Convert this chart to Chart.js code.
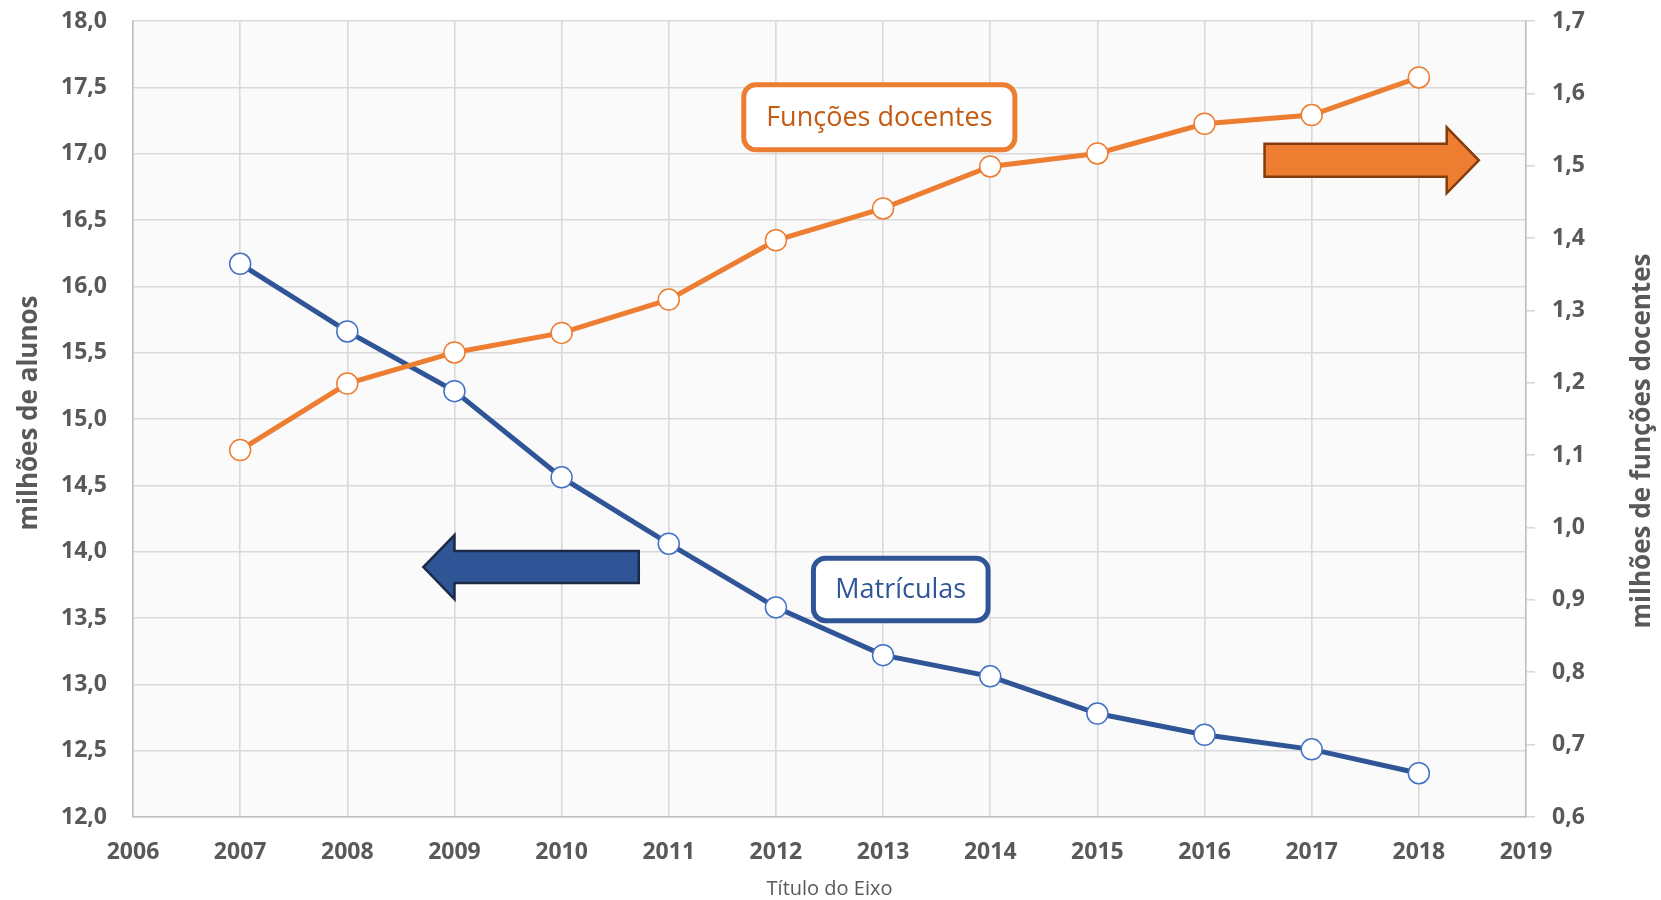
<!DOCTYPE html>
<html><head><meta charset="utf-8">
<script src="https://cdn.jsdelivr.net/npm/chart.js@4"></script>
<style>html,body{margin:0;padding:0;background:#fff}</style>
</head><body>
<canvas id="c" width="1661" height="900" style="width:1661px;height:900px;display:block"></canvas>
<script>
const years = [2007, 2008, 2009, 2010, 2011, 2012, 2013, 2014, 2015, 2016, 2017, 2018];
const matriculas = [16.17, 15.66, 15.21, 14.56, 14.06, 13.58, 13.22, 13.06, 12.78, 12.62, 12.51, 12.33];
const funcoesDocentes = [1.107, 1.199, 1.242, 1.269, 1.315, 1.397, 1.441, 1.499, 1.517, 1.558, 1.570, 1.622];
const seriesNames = ['Matrículas', 'Funções docentes'];
const leftTitle = 'milhões de alunos';
const rightTitle = 'milhões de funções docentes';
const xTitle = 'Título do Eixo';

const BLUE = '#2F5597', BLUE_PT = '#4472C4', ORANGE = '#ED7D31', ORANGE_TXT = '#C55A11';
const GREY = '#595959', GRID = '#d9d9d9', AXIS = '#bfbfbf';
const FONT = '"Open Sans", "Liberation Sans", sans-serif';

const fmt = v => Number(v).toFixed(1).replace('.', ',');

const annot = {
  id: 'annot',
  beforeDraw(chart) {
    const {ctx, chartArea: a} = chart;
    ctx.save();
    ctx.fillStyle = '#fafafa';
    ctx.fillRect(a.left, a.top, a.right - a.left, a.bottom - a.top);
    ctx.restore();
  },
  afterDatasetsDraw(chart) {
    const ctx = chart.ctx;
    const xs = chart.scales.x, ys = chart.scales.y;
    const X = v => xs.getPixelForValue(v), Y = v => ys.getPixelForValue(v);
    function arrow(tail, base, tip, yv, bh, hh, fill, stroke) {
      const tx = X(tail), bx = X(base), px = X(tip), cy = Y(yv);
      ctx.save();
      ctx.beginPath();
      ctx.moveTo(tx, cy - bh); ctx.lineTo(bx, cy - bh); ctx.lineTo(bx, cy - hh);
      ctx.lineTo(px, cy); ctx.lineTo(bx, cy + hh); ctx.lineTo(bx, cy + bh);
      ctx.lineTo(tx, cy + bh); ctx.closePath();
      ctx.fillStyle = fill; ctx.fill();
      ctx.lineWidth = 2.5; ctx.strokeStyle = stroke; ctx.lineJoin = 'miter'; ctx.stroke();
      ctx.restore();
    }
    function box(x1, x2, y1, y2, text, border, color, size) {
      const l = X(x1), r = X(x2), t = Y(y1), b = Y(y2);
      ctx.save();
      ctx.beginPath();
      ctx.roundRect(l, t, r - l, b - t, 12);
      ctx.fillStyle = '#fff'; ctx.fill();
      ctx.lineWidth = 5; ctx.strokeStyle = border; ctx.stroke();
      ctx.fillStyle = color; ctx.font = size + 'px ' + FONT;
      ctx.textAlign = 'center'; ctx.textBaseline = 'middle';
      ctx.fillText(text, (l + r) / 2, (t + b) / 2 + 1);
      ctx.restore();
    }
    arrow(2016.56, 2018.26, 2018.56, 16.95, 16.5, 33, ORANGE, '#843C0C');
    arrow(2010.72, 2009.0, 2008.71, 13.884, 16, 32, BLUE, '#1c2a48');
    box(2011.70, 2014.23, 17.52, 17.03, seriesNames[1], ORANGE, ORANGE_TXT, 27);
    box(2012.35, 2013.98, 13.95, 13.48, seriesNames[0], BLUE, BLUE, 27);
  },
  afterDraw(chart) {
    const ctx = chart.ctx, a = chart.chartArea;
    ctx.save();
    ctx.fillStyle = GREY;
    ctx.textAlign = 'center'; ctx.textBaseline = 'middle';
    ctx.font = 'bold 26px ' + FONT;
    ctx.save(); ctx.translate(30, 413); ctx.rotate(-Math.PI / 2); ctx.fillText(leftTitle, 0, 0); ctx.restore();
    ctx.save(); ctx.translate(1643, 441); ctx.rotate(-Math.PI / 2); ctx.fillText(rightTitle, 0, 0); ctx.restore();
    ctx.font = '20px ' + FONT;
    ctx.fillText(xTitle, (a.left + a.right) / 2, 889);
    ctx.restore();
  }
};

new Chart(document.getElementById('c'), {
  type: 'line',
  data: {
    datasets: [
      {
        label: seriesNames[1], yAxisID: 'y2',
        data: years.map((y, i) => ({x: y, y: funcoesDocentes[i]})),
        borderColor: ORANGE, borderWidth: 5, pointRadius: 10.5, pointHoverRadius: 10.5,
        pointBackgroundColor: '#fff', pointBorderColor: ORANGE, pointBorderWidth: 1.5, tension: 0
      },
      {
        label: seriesNames[0], yAxisID: 'y',
        data: years.map((y, i) => ({x: y, y: matriculas[i]})),
        borderColor: BLUE, borderWidth: 5, pointRadius: 10.5, pointHoverRadius: 10.5,
        pointBackgroundColor: '#fff', pointBorderColor: BLUE_PT, pointBorderWidth: 1.5, tension: 0
      }
    ]
  },
  options: {
    responsive: false, animation: false, devicePixelRatio: 1,
    layout: {padding: {top: 21, left: 0, right: 0, bottom: 0}},
    plugins: {legend: {display: false}, tooltip: {enabled: false}},
    scales: {
      x: {
        type: 'linear', min: 2006, max: 2019,
        ticks: {stepSize: 1, color: GREY, font: {family: FONT, size: 23, weight: 'bold'}, padding: 22, callback: v => String(v), maxRotation: 0},
        grid: {color: GRID, lineWidth: 1.6, drawTicks: false},
        border: {color: AXIS, width: 1.5},
        afterFit: s => { s.height = 83; s.paddingLeft = 0; s.paddingRight = 0; }
      },
      y: {
        type: 'linear', position: 'left', min: 12, max: 18,
        ticks: {stepSize: 0.5, color: GREY, font: {family: FONT, size: 23, weight: 'bold'}, padding: 26, callback: fmt},
        grid: {color: GRID, lineWidth: 1.6, drawTicks: false},
        border: {color: AXIS, width: 1.5},
        afterFit: s => { s.width = 133; s.paddingTop = 0; s.paddingBottom = 0; }
      },
      y2: {
        type: 'linear', position: 'right', min: 0.6, max: 1.7,
        ticks: {stepSize: 0.1, color: GREY, font: {family: FONT, size: 23, weight: 'bold'}, padding: 17, callback: fmt},
        grid: {drawOnChartArea: false, color: GRID, lineWidth: 1.6, drawTicks: true, tickLength: 9},
        border: {color: AXIS, width: 1.5},
        afterFit: s => { s.width = 135; s.paddingTop = 0; s.paddingBottom = 0; }
      }
    }
  },
  plugins: [annot]
});
</script>
</body></html>
